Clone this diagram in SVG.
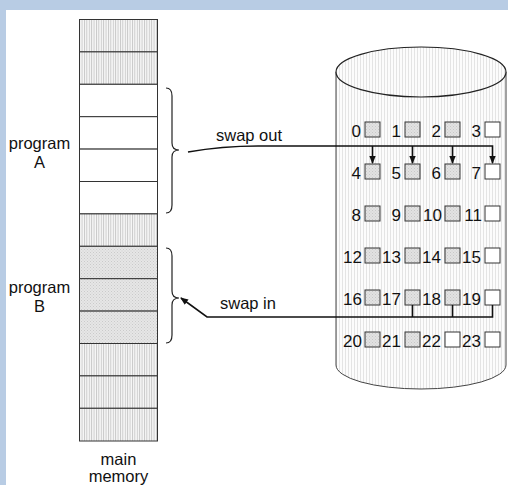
<svg xmlns="http://www.w3.org/2000/svg" width="508" height="485" viewBox="0 0 508 485">
<style>
text{font-family:"Liberation Sans",Arial,sans-serif;fill:#111}
.lbl{font-size:16.5px}
.num{font-size:17px;text-anchor:end}
.cell{stroke:#333;stroke-width:1}
.box{stroke:#333;stroke-width:1}
.g{fill:url(#stipB)}
.w{fill:#fff}
.brace{fill:none;stroke:#222;stroke-width:1.2}
.conn{fill:none;stroke:#111;stroke-width:1.6}
</style>
<defs>
<pattern id="hatch" width="2.4" height="10" patternUnits="userSpaceOnUse">
<rect width="2.4" height="10" fill="#f7f7f7"/>
<rect width="0.9" height="10" fill="#c6c6c6"/>
</pattern>
<pattern id="hatchL" width="3" height="10" patternUnits="userSpaceOnUse">
<rect width="3" height="10" fill="#fcfcfc"/>
<rect width="0.8" height="10" fill="#dedede"/>
</pattern>
<pattern id="stip" width="3" height="3" patternUnits="userSpaceOnUse">
<rect width="3" height="3" fill="#e6e6e6"/>
<rect width="1" height="1" fill="#cacaca"/>
<rect x="1.5" y="1.5" width="1" height="1" fill="#d0d0d0"/>
</pattern>
<pattern id="stipB" width="3" height="3" patternUnits="userSpaceOnUse">
<rect width="3" height="3" fill="#e2e2e2"/>
<rect width="1" height="1" fill="#c8c8c8"/>
<rect x="1.5" y="1.5" width="1" height="1" fill="#cfcfcf"/>
</pattern>
<marker id="ah" markerWidth="8" markerHeight="8" refX="7" refY="4" orient="auto" markerUnits="userSpaceOnUse">
<path d="M0,0.8 L8,4 L0,7.2 Z" fill="#111"/>
</marker>
</defs>
<rect width="508" height="485" fill="#b8cce4"/>
<rect x="6" y="10" width="502" height="475" fill="#fff"/>

<g id="memory">
<rect class="cell" x="79.5" y="19.5" width="78" height="32.4" fill="url(#hatch)"/>
<rect class="cell" x="79.5" y="51.9" width="78" height="32.4" fill="url(#hatch)"/>
<rect class="cell" x="79.5" y="84.3" width="78" height="32.4" fill="#fff"/>
<rect class="cell" x="79.5" y="116.7" width="78" height="32.4" fill="#fff"/>
<rect class="cell" x="79.5" y="149.1" width="78" height="32.4" fill="#fff"/>
<rect class="cell" x="79.5" y="181.5" width="78" height="32.4" fill="#fff"/>
<rect class="cell" x="79.5" y="213.9" width="78" height="32.4" fill="url(#hatch)"/>
<rect class="cell" x="79.5" y="246.3" width="78" height="32.4" fill="url(#stip)"/>
<rect class="cell" x="79.5" y="278.7" width="78" height="32.4" fill="url(#stip)"/>
<rect class="cell" x="79.5" y="311.1" width="78" height="32.4" fill="url(#stip)"/>
<rect class="cell" x="79.5" y="343.5" width="78" height="32.4" fill="url(#hatch)"/>
<rect class="cell" x="79.5" y="375.9" width="78" height="32.4" fill="url(#hatch)"/>
<rect class="cell" x="79.5" y="408.3" width="78" height="32.7" fill="url(#hatch)"/>
<text class="lbl" x="118.5" y="465" text-anchor="middle">main</text>
<text class="lbl" x="118.5" y="482" text-anchor="middle">memory</text>
</g>

<g id="programA">
<text class="lbl" x="39.5" y="149" text-anchor="middle">program</text>
<text class="lbl" x="39.5" y="168" text-anchor="middle">A</text>
<path class="brace" d="M166,88 Q172,88 172,96 L172,143 Q172,150 179,150 Q172,150 172,157 L172,205 Q172,213 166,213"/>
</g>

<g id="programB">
<text class="lbl" x="39.5" y="293" text-anchor="middle">program</text>
<text class="lbl" x="39.5" y="312" text-anchor="middle">B</text>
<path class="brace" d="M166,248 Q172,248 172,256 L172,291 Q172,298 179,298 Q172,298 172,305 L172,335 Q172,343 166,343"/>
</g>

<g id="disk">
<path d="M336,72 L336,365 A85,24 0 0 0 506,365 L506,72 Z" fill="url(#hatchL)" stroke="#444" stroke-width="1"/>
<ellipse cx="421" cy="72" rx="85" ry="25" fill="url(#hatchL)" stroke="#222" stroke-width="1.2"/>
</g>

<g id="blocks">
<rect class="box g" x="365" y="122" width="15" height="15"/><text class="num" x="361" y="137">0</text>
<rect class="box g" x="405" y="122" width="15" height="15"/><text class="num" x="401" y="137">1</text>
<rect class="box g" x="445" y="122" width="15" height="15"/><text class="num" x="441" y="137">2</text>
<rect class="box w" x="485" y="122" width="15" height="15"/><text class="num" x="481" y="137">3</text>

<rect class="box g" x="365" y="164" width="15" height="15"/><text class="num" x="361" y="179">4</text>
<rect class="box g" x="405" y="164" width="15" height="15"/><text class="num" x="401" y="179">5</text>
<rect class="box g" x="445" y="164" width="15" height="15"/><text class="num" x="441" y="179">6</text>
<rect class="box w" x="485" y="164" width="15" height="15"/><text class="num" x="481" y="179">7</text>

<rect class="box g" x="365" y="206" width="15" height="15"/><text class="num" x="361" y="221">8</text>
<rect class="box g" x="405" y="206" width="15" height="15"/><text class="num" x="401" y="221">9</text>
<rect class="box g" x="445" y="206" width="15" height="15"/><text class="num" x="442" y="221">10</text>
<rect class="box w" x="485" y="206" width="15" height="15"/><text class="num" x="482" y="221">11</text>

<rect class="box g" x="365" y="248" width="15" height="15"/><text class="num" x="362" y="263">12</text>
<rect class="box g" x="405" y="248" width="15" height="15"/><text class="num" x="401" y="263">13</text>
<rect class="box g" x="445" y="248" width="15" height="15"/><text class="num" x="441" y="263">14</text>
<rect class="box w" x="485" y="248" width="15" height="15"/><text class="num" x="481" y="263">15</text>

<rect class="box g" x="365" y="290" width="15" height="15"/><text class="num" x="362" y="305">16</text>
<rect class="box g" x="405" y="290" width="15" height="15"/><text class="num" x="401" y="305">17</text>
<rect class="box g" x="445" y="290" width="15" height="15"/><text class="num" x="441" y="305">18</text>
<rect class="box w" x="485" y="290" width="15" height="15"/><text class="num" x="481" y="305">19</text>

<rect class="box g" x="365" y="332" width="15" height="15"/><text class="num" x="362" y="347">20</text>
<rect class="box g" x="405" y="332" width="15" height="15"/><text class="num" x="401" y="347">21</text>
<rect class="box w" x="445" y="332" width="15" height="15"/><text class="num" x="441" y="347">22</text>
<rect class="box w" x="485" y="332" width="15" height="15"/><text class="num" x="481" y="347">23</text>
</g>

<g id="connectors">
<text class="lbl" x="216" y="141">swap out</text>
<path class="conn" d="M188,152 Q222,146 258,146 L492.5,146 L492.5,163" marker-end="url(#ah)"/>
<path class="conn" d="M372.5,146 L372.5,163" marker-end="url(#ah)"/>
<path class="conn" d="M412.5,146 L412.5,163" marker-end="url(#ah)"/>
<path class="conn" d="M452.5,146 L452.5,163" marker-end="url(#ah)"/>
<text class="lbl" x="220" y="309">swap in</text>
<path class="conn" d="M492.5,305 L492.5,317 L207,317 L181,298" marker-end="url(#ah)"/>
<path class="conn" d="M412.5,305 L412.5,317"/>
<path class="conn" d="M452.5,305 L452.5,317"/>
</g>
</svg>
